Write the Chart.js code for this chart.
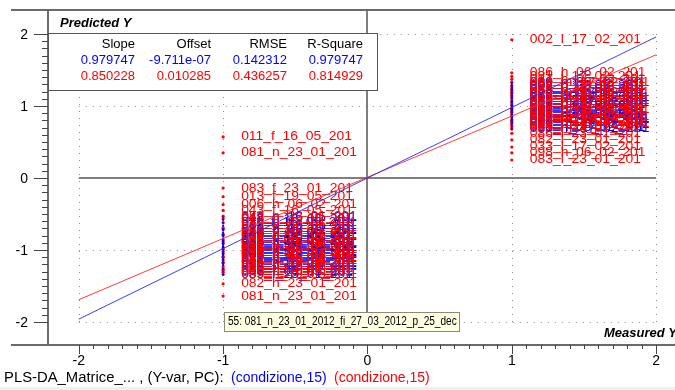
<!DOCTYPE html>
<html>
<head>
<meta charset="utf-8">
<script src="https://cdn.jsdelivr.net/npm/chart.js@4.4.1/dist/chart.umd.min.js"></script>
<style>
  html, body { margin: 0; padding: 0; background: #fff; }
  canvas { display: block; }
</style>
</head>
<body>
<canvas id="chart" width="675" height="390"></canvas>
<script>
// samples of class -1 (measured Y = -1)
const namesNeg = [
  "011_f_16_05_201", "081_n_23_01_201", "083_f_23_01_201", "013_f_19_05_201",
  "006_h_06_02_201", "043_f_16_05_201", "082_n_23_01_201", "012_f_16_05_201",
  "084_h_23_01_201", "007_h_06_02_201", "044_f_19_05_201", "085_n_23_01_201",
  "014_h_19_05_201", "008_f_06_02_201", "045_h_16_05_201", "086_f_23_01_201",
  "015_n_19_05_201", "009_h_06_02_201", "046_f_16_05_201", "087_h_23_01_201",
  "016_f_19_05_201", "010_n_06_02_201", "047_h_16_05_201", "088_f_23_01_201",
  "017_h_19_05_201", "048_n_16_05_201", "089_f_23_01_201", "018_h_19_05_201",
  "049_f_16_05_201", "085_h_19_05_201", "082_h_23_01_201", "081_n_23_01_201"
];
const blueNegY = [
  -0.62, -0.71, -0.95, -0.88, -1.02, -0.58, -1.12, -0.84, -1.21, -0.97, -0.76,
  -1.05, -0.91, -1.30, -0.66, -1.08, -0.99, -0.81, -1.17, -0.93, -1.26, -0.73,
  -1.03, -0.87, -1.14, -0.55, -1.34, -0.96, -0.79, -1.19, -1.06, -0.90
];
const redNegY = [
  0.57, 0.35, -0.14, -0.26, -0.37, -0.45, -0.53, -0.57, -0.62, -0.69, -0.71,
  -0.78, -0.80, -0.86, -0.89, -0.91, -0.97, -0.99, -1.02, -1.05, -1.09, -1.10,
  -1.14, -1.17, -1.18, -1.23, -1.26, -1.28, -1.31, -1.34, -1.47, -1.64
];

// samples of class 1 (measured Y = 1)
const namesPos = [
  "002_l_17_02_201", "086_h_06_02_201", "021_l_17_02_201", "087_h_06_02_201",
  "022_m_17_02_201", "088_h_06_02_201", "023_l_17_02_201", "089_h_06_02_201",
  "024_m_17_02_201", "090_h_06_02_201", "025_l_17_02_201", "091_h_06_02_201",
  "026_m_17_02_201", "092_h_06_02_201", "027_l_17_02_201", "093_h_06_02_201",
  "028_m_17_02_201", "094_h_06_02_201", "029_l_17_02_201", "095_h_06_02_201",
  "030_m_17_02_201", "096_h_06_02_201", "031_l_17_02_201", "097_h_06_02_201",
  "032_m_17_02_201", "084_l_23_01_201", "085_l_23_01_201", "086_l_23_01_201",
  "082_l_23_01_201", "033_l_17_02_201", "098_h_06_02_201", "083_l_23_01_201"
];
const bluePosY = [
  1.29, 1.02, 0.88, 1.15, 0.74, 1.21, 0.95, 1.08, 0.81, 1.32, 0.99, 0.70,
  1.12, 0.92, 1.25, 0.85, 1.05, 0.77, 1.18, 0.97, 0.68, 1.10, 0.90, 1.27,
  0.83, 1.01, 1.14, 0.79, 0.94, 1.23, 0.87, 1.06
];
const redPosY = [
  1.92, 1.46, 1.41, 1.37, 1.33, 1.28, 1.25, 1.22, 1.19, 1.17, 1.14, 1.11,
  1.07, 1.04, 1.01, 0.97, 0.95, 0.93, 0.91, 0.88, 0.85, 0.81, 0.79, 0.77,
  0.75, 0.72, 0.68, 0.62, 0.53, 0.43, 0.35, 0.25
];

// statistics table
const statHeaders = ["Slope", "Offset", "RMSE", "R-Square"];
const statsBlue = ["0.979747", "-9.711e-07", "0.142312", "0.979747"];
const statsRed = ["0.850228", "0.010285", "0.436257", "0.814929"];

const xTickLabels = ["-2", "-1", "0", "1", "2"];
const yTickLabels = ["2", "1", "0", "-1", "-2"];

const BLUE = "#0000ff";
const RED = "#ff0000";
const FONT = "'Liberation Sans', Arial, sans-serif";

function points(x, ys) {
  return ys.map((y) => ({ x: x, y: y }));
}

function fitLine(stats) {
  const slope = parseFloat(stats[0]);
  const offset = parseFloat(stats[1]);
  return [-2, 2].map((x) => ({ x: x, y: slope * x + offset }));
}

// draw text stretched horizontally
function stretchText(ctx, text, x, y, sx) {
  ctx.save();
  ctx.translate(x, y);
  ctx.scale(sx, 1);
  ctx.fillText(text, 0, 0);
  ctx.restore();
}

const labelSets = [
  { x: -1, ys: blueNegY, names: namesNeg, color: BLUE },
  { x: 1, ys: bluePosY, names: namesPos, color: BLUE },
  { x: -1, ys: redNegY, names: namesNeg, color: RED },
  { x: 1, ys: redPosY, names: namesPos, color: RED },
];

const backdrop = {
  id: "backdrop",
  beforeDatasetsDraw(chart) {
    const { ctx, scales } = chart;
    const xs = scales.x, ys = scales.y;
    const area = chart.chartArea;
    ctx.save();

    // dotted grid
    ctx.strokeStyle = "#8a8a8a";
    ctx.lineWidth = 1;
    ctx.setLineDash([1, 6]);
    [-2, -1, 1, 2].forEach((v) => {
      const px = Math.round(xs.getPixelForValue(v)) + 0.5;
      ctx.beginPath();
      ctx.moveTo(px, ys.getPixelForValue(2));
      ctx.lineTo(px, ys.getPixelForValue(-2));
      ctx.stroke();
      const py = Math.round(ys.getPixelForValue(v)) + 0.5;
      ctx.beginPath();
      ctx.moveTo(xs.getPixelForValue(-2), py);
      ctx.lineTo(xs.getPixelForValue(2), py);
      ctx.stroke();
    });
    ctx.setLineDash([]);

    // zero lines
    ctx.strokeStyle = "#555";
    ctx.lineWidth = 1.5;
    const x0 = Math.round(xs.getPixelForValue(0));
    const y0 = Math.round(ys.getPixelForValue(0));
    ctx.beginPath();
    ctx.moveTo(xs.getPixelForValue(-2), y0);
    ctx.lineTo(xs.getPixelForValue(2), y0);
    ctx.moveTo(x0, area.top);
    ctx.lineTo(x0, ys.getPixelForValue(-2));
    ctx.stroke();

    // frame and axes
    ctx.strokeStyle = "#6a6a6a";
    ctx.lineWidth = 2;
    ctx.beginPath();
    ctx.moveTo(11, area.top);
    ctx.lineTo(675, area.top);
    ctx.moveTo(area.left, area.top);
    ctx.lineTo(area.left, area.bottom);
    ctx.moveTo(11, area.bottom);
    ctx.lineTo(675, area.bottom);
    ctx.stroke();

    ctx.lineWidth = 1;
    ctx.strokeStyle = "#444";
    ctx.beginPath();
    for (let i = -20; i <= 20; i++) {
      const v = i / 10;
      const major = i % 10 === 0;
      const py = Math.round(ys.getPixelForValue(v)) + 0.5;
      ctx.moveTo(area.left - (major ? 14 : 6), py);
      ctx.lineTo(area.left, py);
      const px = Math.round(xs.getPixelForValue(v)) + 0.5;
      ctx.moveTo(px, area.bottom);
      ctx.lineTo(px, area.bottom + (major ? 9 : 4));
    }
    ctx.stroke();

    ctx.fillStyle = "#000";
    ctx.font = "14px " + FONT;
    ctx.textAlign = "right";
    ctx.textBaseline = "middle";
    yTickLabels.forEach((t) => {
      ctx.fillText(t, 28, ys.getPixelForValue(parseFloat(t)) + 1);
    });
    ctx.textAlign = "center";
    xTickLabels.forEach((t) => {
      ctx.fillText(t, xs.getPixelForValue(parseFloat(t)), 361);
    });

    // sample labels next to each point
    ctx.font = "12.5px " + FONT;
    ctx.textAlign = "left";
    labelSets.forEach((set) => {
      ctx.fillStyle = set.color;
      set.ys.forEach((y, i) => {
        stretchText(ctx, set.names[i], xs.getPixelForValue(set.x) + 18, ys.getPixelForValue(y), 1.11);
      });
    });
    ctx.restore();
  },
  afterDraw(chart) {
    const { ctx } = chart;
    ctx.save();

    // titles
    ctx.fillStyle = "#000";
    ctx.font = "italic bold 13px " + FONT;
    ctx.textBaseline = "middle";
    ctx.textAlign = "left";
    ctx.fillText("Predicted Y", 60, 23);
    ctx.fillText("Measured Y", 604, 333);

    // stats table
    ctx.fillStyle = "#fff";
    ctx.fillRect(49, 33, 329, 57);
    ctx.strokeStyle = "#555";
    ctx.lineWidth = 1;
    ctx.strokeRect(48.5, 33.5, 329, 57);
    ctx.font = "13px " + FONT;
    ctx.textAlign = "right";
    const colX = [135, 211, 287, 363];
    statHeaders.forEach((h, i) => {
      ctx.fillStyle = "#000";
      ctx.fillText(h, colX[i], 44);
      ctx.fillStyle = BLUE;
      ctx.fillText(statsBlue[i], colX[i], 60);
      ctx.fillStyle = RED;
      ctx.fillText(statsRed[i], colX[i], 76);
    });

    // hover tooltip
    ctx.fillStyle = "#ffffe1";
    ctx.fillRect(224, 312, 235, 19);
    ctx.strokeStyle = "#8a8a7a";
    ctx.strokeRect(224.5, 312.5, 235, 19);
    ctx.fillStyle = "#000";
    ctx.font = "12px " + FONT;
    ctx.textAlign = "left";
    stretchText(ctx, "55: 081_n_23_01_2012_fi_27_03_2012_p_25_dec", 228, 322, 0.84);

    // status line
    ctx.fillStyle = "#f0f0f0";
    ctx.fillRect(0, 387, 675, 3);
    ctx.font = "14px " + FONT;
    ctx.fillStyle = "#000";
    stretchText(ctx, "PLS-DA_Matrice_... , (Y-var, PC):", 4, 378, 1.06);
    ctx.fillStyle = BLUE;
    ctx.fillText("(condizione,15)", 231, 378);
    ctx.fillStyle = RED;
    ctx.fillText("(condizione,15)", 334, 378);
    ctx.restore();
  },
};

new Chart(document.getElementById("chart"), {
  type: "scatter",
  data: {
    datasets: [
      {
        type: "line",
        data: fitLine(statsBlue),
        borderColor: "rgba(40,40,255,0.9)",
        borderWidth: 1,
        pointRadius: 0,
      },
      {
        type: "line",
        data: fitLine(statsRed),
        borderColor: "rgba(255,40,40,0.9)",
        borderWidth: 1,
        pointRadius: 0,
      },
      { data: points(-1, blueNegY), backgroundColor: BLUE, borderWidth: 0, pointRadius: 1.1 },
      { data: points(1, bluePosY), backgroundColor: BLUE, borderWidth: 0, pointRadius: 1.1 },
      { data: points(-1, redNegY), backgroundColor: RED, borderWidth: 0, pointRadius: 1.6 },
      { data: points(1, redPosY), backgroundColor: RED, borderWidth: 0, pointRadius: 1.6 },
    ],
  },
  options: {
    responsive: false,
    animation: false,
    layout: { padding: { left: 48, top: 10, right: 0, bottom: 45 } },
    scales: {
      x: { type: "linear", min: -2.2134, max: 2.103, display: false },
      y: { type: "linear", min: -2.319, max: 2.333, display: false },
    },
    plugins: {
      legend: { display: false },
      tooltip: { enabled: false },
    },
  },
  plugins: [backdrop],
});
</script>
</body>
</html>
